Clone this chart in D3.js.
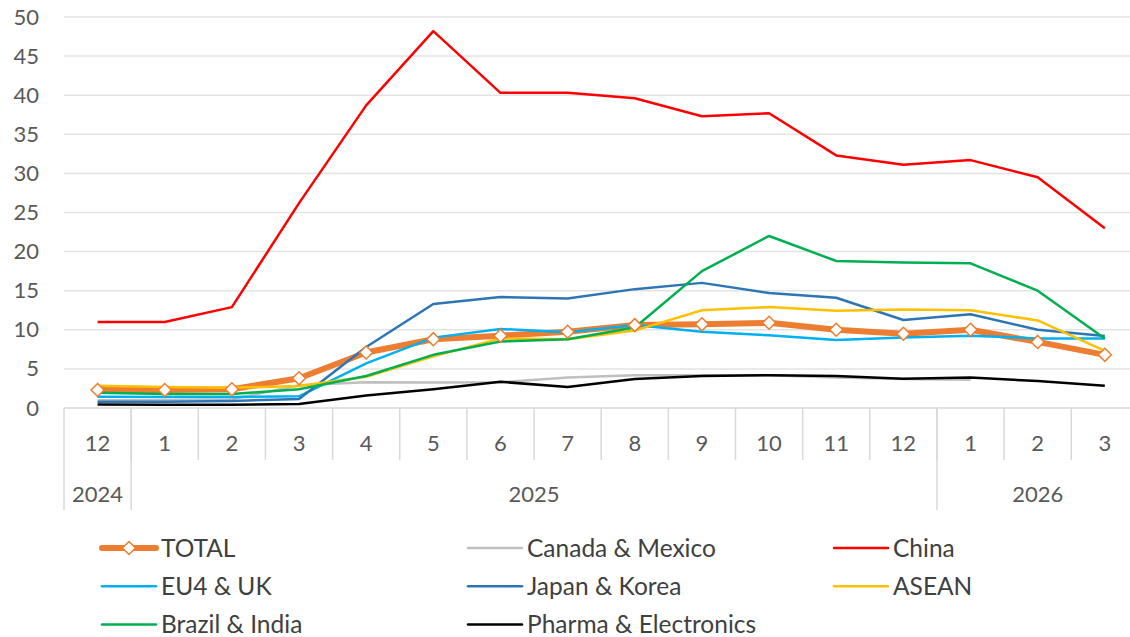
<!DOCTYPE html>
<html>
<head>
<meta charset="utf-8">
<script src="https://cdn.jsdelivr.net/npm/d3@7"></script>
<style>
  body { margin: 0; background: #fff; }
  svg { display: block; font-family: Lato, "Noto Sans", sans-serif; }
</style>
</head>
<body>
<script>
// Categories
const months = ["12", "1", "2", "3", "4", "5", "6", "7", "8", "9", "10", "11", "12", "1", "2", "3"];
const yearLabels = ["2024", "2025", "2026"];
const yearSpans = [1, 12, 3];
const yTicks = [0, 5, 10, 15, 20, 25, 30, 35, 40, 45, 50];

// Series values
const total        = [2.3, 2.3, 2.4, 3.8, 7.1, 8.8, 9.25, 9.75, 10.6, 10.7, 10.9, 10.0, 9.5, 10.0, 8.45, 6.8];
const canadaMexico = [1.0, 1.0, 1.1, 2.9, 3.3, 3.25, 3.3, 3.9, 4.2, 4.2, 4.2, 3.9, 3.7, 3.6, null, null];
const china        = [11.0, 11.0, 12.9, 26.2, 38.7, 48.2, 40.3, 40.3, 39.6, 37.3, 37.7, 32.3, 31.1, 31.7, 29.5, 23.0];
const eu4Uk        = [1.45, 1.4, 1.4, 1.5, 5.7, 9.0, 10.1, 9.7, 10.6, 9.75, 9.3, 8.7, 9.0, 9.25, 8.9, 8.9];
const japanKorea   = [0.8, 0.8, 0.9, 1.15, 7.8, 13.3, 14.2, 14.0, 15.2, 16.0, 14.7, 14.1, 11.25, 12.0, 10.0, 9.2];
const asean        = [2.85, 2.7, 2.6, 2.8, 4.0, 6.6, 8.9, 8.8, 9.9, 12.5, 12.9, 12.45, 12.6, 12.5, 11.2, 7.3];
const brazilIndia  = [1.95, 1.8, 1.8, 2.4, 4.1, 6.8, 8.5, 8.8, 10.3, 17.5, 22.0, 18.8, 18.6, 18.5, 15.0, 8.9];
const pharmaElec   = [0.45, 0.4, 0.4, 0.5, 1.6, 2.4, 3.35, 2.7, 3.7, 4.1, 4.2, 4.1, 3.75, 3.9, 3.45, 2.85];

const seriesNames = ["TOTAL", "Canada & Mexico", "China", "EU4 & UK", "Japan & Korea", "ASEAN", "Brazil & India", "Pharma & Electronics"];
const seriesValues = [total, canadaMexico, china, eu4Uk, japanKorea, asean, brazilIndia, pharmaElec];
const seriesColors = ["#ED7D31", "#BFBFBF", "#FF0000", "#00B0F0", "#2E75B6", "#FFC000", "#00B050", "#000000"];

const w = 1130, h = 637;
const plotLeft = 64, step = 67.15;
const plotTop = 17, plotBottom = 408;

const svg = d3.select("body").append("svg")
  .attr("width", w)
  .attr("height", h);

const idx = months.map((d, i) => i);
const x = d3.scaleBand()
  .domain(idx)
  .range([plotLeft, plotLeft + step * months.length])
  .padding(0);
const y = d3.scaleLinear()
  .domain([0, 50])
  .range([plotBottom, plotTop]);

// horizontal gridlines
svg.append("g")
  .selectAll("line")
  .data(yTicks.filter(d => d > 0))
  .join("line")
  .attr("x1", plotLeft).attr("x2", w)
  .attr("y1", d => y(d)).attr("y2", d => y(d))
  .attr("stroke", "#E3E3E3")
  .attr("stroke-width", 1.5);

// y axis labels
svg.append("g")
  .attr("transform", `translate(${plotLeft}, 0)`)
  .call(d3.axisLeft(y).tickValues(yTicks).tickSize(0).tickPadding(25))
  .call(g => g.select(".domain").remove())
  .call(g => g.selectAll("text")
    .attr("font-family", "Lato, sans-serif")
    .attr("font-size", 22)
    .attr("fill", "#595959"));

// x axis baseline
svg.append("line")
  .attr("x1", plotLeft).attr("x2", w)
  .attr("y1", plotBottom).attr("y2", plotBottom)
  .attr("stroke", "#D9D9D9")
  .attr("stroke-width", 1.5);

// month separators
svg.append("g")
  .selectAll("line")
  .data(idx.slice(1))
  .join("line")
  .attr("x1", d => x(d)).attr("x2", d => x(d))
  .attr("y1", plotBottom).attr("y2", 460)
  .attr("stroke", "#D9D9D9")
  .attr("stroke-width", 1.5);

// month labels
svg.append("g")
  .selectAll("text")
  .data(idx)
  .join("text")
  .attr("x", d => x(d) + x.bandwidth() / 2)
  .attr("y", 443)
  .attr("dy", "0.35em")
  .attr("text-anchor", "middle")
  .attr("font-size", 22)
  .attr("fill", "#595959")
  .text(d => months[d]);

// year groups
const yearStarts = yearSpans.map((s, i) => d3.sum(yearSpans.slice(0, i)));
svg.append("g")
  .selectAll("line")
  .data(yearStarts)
  .join("line")
  .attr("x1", d => x(d)).attr("x2", d => x(d))
  .attr("y1", plotBottom).attr("y2", 510)
  .attr("stroke", "#D9D9D9")
  .attr("stroke-width", 1.5);

svg.append("g")
  .selectAll("text")
  .data(yearLabels)
  .join("text")
  .attr("x", (d, i) => x(yearStarts[i]) + (yearSpans[i] * step) / 2)
  .attr("y", 494)
  .attr("dy", "0.35em")
  .attr("text-anchor", "middle")
  .attr("font-size", 22)
  .attr("fill", "#595959")
  .text(d => d);

// lines
const line = d3.line()
  .defined(d => d.v !== null)
  .x(d => x(d.i) + x.bandwidth() / 2)
  .y(d => y(d.v));

const plot = svg.append("g");
seriesValues.forEach((vals, s) => {
  plot.append("path")
    .datum(vals.map((v, i) => ({ i, v })))
    .attr("fill", "none")
    .attr("stroke", seriesColors[s])
    .attr("stroke-width", s === 0 ? 6 : 2.5)
    .attr("stroke-linejoin", "round")
    .attr("d", line);
});

// diamond markers for TOTAL
const diamond = "M0,-6.5L6.5,0L0,6.5L-6.5,0Z";
plot.append("g")
  .selectAll("path")
  .data(total)
  .join("path")
  .attr("transform", (d, i) => `translate(${x(i) + x.bandwidth() / 2}, ${y(d)})`)
  .attr("d", diamond)
  .attr("fill", "#fff")
  .attr("stroke", "#ED7D31")
  .attr("stroke-width", 1.5);

// legend
const legend = svg.append("g");
seriesNames.forEach((name, s) => {
  const col = s % 3, row = Math.floor(s / 3);
  const lx = 102 + col * 366, ly = 548 + row * 38.3;
  const item = legend.append("g").attr("transform", `translate(${lx}, ${ly})`);
  item.append("line")
    .attr("x1", 0).attr("x2", 54)
    .attr("y1", 0).attr("y2", 0)
    .attr("stroke", seriesColors[s])
    .attr("stroke-width", s === 0 ? 6 : 2.5)
    .attr("stroke-linecap", "round");
  if (s === 0) {
    item.append("path")
      .attr("transform", "translate(27, 0)")
      .attr("d", diamond)
      .attr("fill", "#fff")
      .attr("stroke", "#ED7D31")
      .attr("stroke-width", 1.5);
  }
  item.append("text")
    .attr("x", 59)
    .attr("y", 0)
    .attr("dy", "0.35em")
    .attr("font-size", 24.5)
    .attr("fill", "#404040")
    .text(name);
});
</script>
</body>
</html>
